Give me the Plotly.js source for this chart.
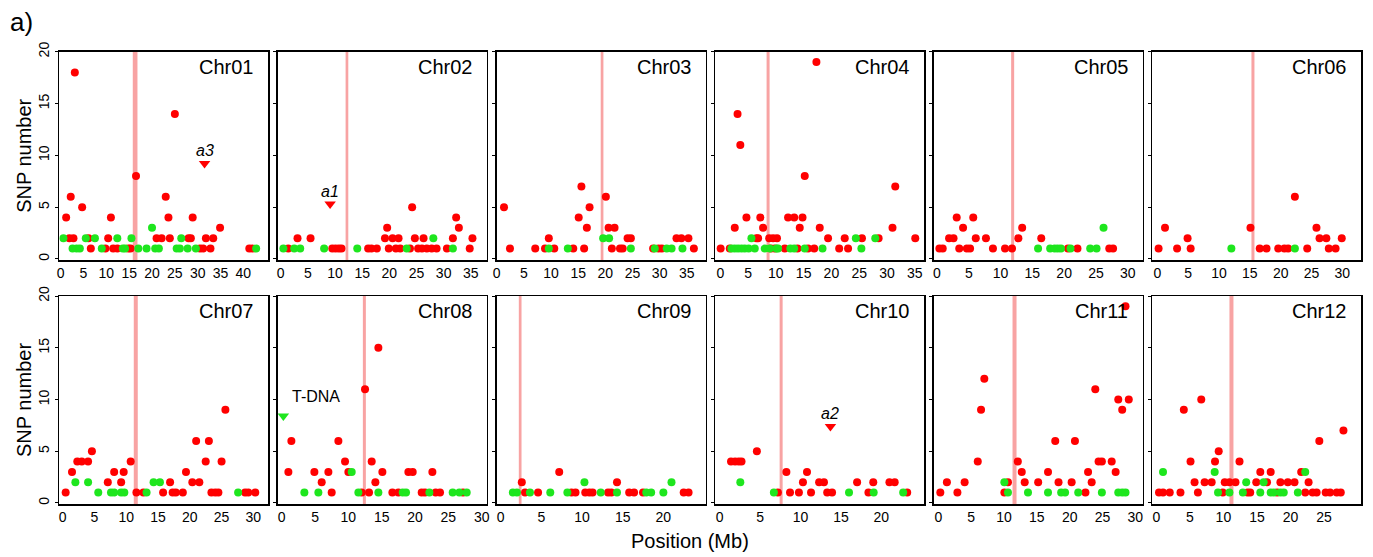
<!DOCTYPE html>
<html><head><meta charset="utf-8">
<script src="https://cdn.plot.ly/plotly-3.0.1.min.js"></script>
<style>html,body{margin:0;padding:0;background:#fff}</style>
</head><body><div id="chart" style="width:1373px;height:557px"></div>
<script>
// ---------------- DATA ----------------
const chromosomes = ['Chr01','Chr02','Chr03','Chr04','Chr05','Chr06','Chr07','Chr08','Chr09','Chr10','Chr11','Chr12'];
const centromeres = [16.3, 12.2, 19.4, 8.6, 11.9, 15.5, 11.5, 12.4, 2.4, 7.6, 11.6, 11.2];
const yTicks = [0, 5, 10, 15, 20];
const xTickMax = [40, 35, 35, 35, 30, 30, 30, 30, 20, 20, 30, 25];

const chr01RedX = [1.2,2.2,3.1,1.9,2.8,4.7,6.1,6.6,9.8,11.0,10.4,11.5,12.4,14.8,15.3,16.5,21.0,22.1,23.0,23.6,23.9,25.0,28.0,28.5,28.9,30.5,31.2,31.8,32.8,33.4,34.9,41.3,42.0];
const chr01RedY = [4,6,18,2,2,5,2,1,1,4,2,1,1,1,1,8,2,2,6,4,2,14,2,2,4,1,1,2,1,2,3,1,1];
const chr01GreenX = [0.6,2.6,3.5,4.2,5.5,7.5,9.0,12.4,13.6,14.1,15.5,17.0,18.8,20.0,20.7,21.5,25.4,26.1,26.4,27.8,29.6,42.8];
const chr01GreenY = [2,1,1,1,2,2,1,2,1,1,2,1,1,3,1,1,1,1,2,1,1,1];

const chr02RedX = [1.4,3.1,5.5,9.5,10.1,10.7,11.2,16.1,16.7,17.7,19.2,19.6,19.9,20.6,21.7,21.2,22.0,24.2,23.8,24.7,25.3,26.0,26.9,27.8,28.7,26.3,30.6,31.7,32.3,32.8,34.8,35.3];
const chr02RedY = [1,2,2,1,1,1,1,1,1,1,2,3,1,2,2,1,1,5,1,2,1,1,1,1,1,2,1,2,4,3,1,2];
const chr02GreenX = [0.5,2.5,3.6,8.0,14.1,23.2,28.1,31.7];
const chr02GreenY = [1,1,1,1,1,1,2,1];

const chr03RedX = [1.35,2.45,7.1,8.9,9.6,10.6,14.1,15.1,15.6,16.1,16.6,17.1,20.1,20.6,21.7,21.2,22.7,23.2,24.1,24.7,28.8,29.8,30.4,33.1,34.0,35.3,36.3];
const chr03RedY = [5,1,1,1,2,1,1,4,7,1,3,5,6,3,3,1,1,1,2,2,1,1,1,2,2,2,1];
const chr03GreenX = [9.6,13.1,19.6,20.7,24.7,29.1,31.3,32.2,34.2];
const chr03GreenY = [1,1,2,2,1,1,1,1,1];

const chr04RedX = [0.06,1.7,2.6,3.1,3.6,4.7,6.5,6.8,7.2,7.7,8.8,9.5,10.2,9.1,9.8,11.6,12.2,13.3,13.9,14.3,14.8,15.2,15.8,16.9,17.3,17.9,19.4,21.4,22.4,23.0,25.5,28.5,31.0,31.5,35.1];
const chr04RedY = [1,1,3,14,11,4,2,2,4,3,2,2,2,1,1,1,4,4,1,3,4,8,1,1,19,3,2,1,2,1,2,2,3,7,2];
const chr04GreenX = [2.0,2.6,3.2,3.8,4.4,5.1,6.2,5.6,8.0,8.9,10.1,10.4,12.6,13.3,15.2,18.4,24.4,25.4,27.9];
const chr04GreenY = [1,1,1,1,1,1,1,2,1,1,1,1,1,1,1,1,2,1,2];

const chr05RedX = [0.37,0.9,1.9,2.6,3.1,3.5,4.1,4.7,5.2,5.7,6.1,7.7,8.8,10.7,11.8,12.8,13.4,16.4,20.6,22.1,27.1,27.7];
const chr05RedY = [1,1,2,2,4,1,3,1,1,4,2,2,1,1,1,2,3,2,1,1,1,1];
const chr05GreenX = [15.9,17.8,18.5,19.0,19.5,21.0,24.1,25.1,26.2];
const chr05GreenY = [1,1,1,1,1,1,1,1,3];

const chr06RedX = [0.2,1.24,3.2,4.9,5.4,15.1,16.6,17.7,19.6,20.6,21.2,22.3,24.3,25.8,26.3,27.4,27.8,28.9,29.9];
const chr06RedY = [1,3,1,2,1,3,1,1,1,1,1,6,1,3,2,2,1,1,2];
const chr06GreenX = [12.0,22.3];
const chr06GreenY = [1,1];

const chr07RedX = [0.47,1.47,2.3,3.0,4.0,4.6,7.1,8.1,9.2,9.6,10.7,11.6,12.7,15.8,16.9,17.3,17.8,18.9,19.4,20.4,21.0,21.5,22.5,23.0,23.4,24.0,24.5,25.0,25.6,28.7,29.2,30.3];
const chr07RedY = [1,3,4,4,4,5,2,3,2,3,4,1,1,1,2,1,1,1,3,2,6,2,4,6,1,1,1,4,9,1,1,1];
const chr07GreenX = [2.0,4.0,5.6,7.6,8.1,9.2,9.7,13.2,14.3,15.3,27.6];
const chr07GreenY = [2,2,1,1,1,1,1,1,2,2,1];

const chr08RedX = [1.0,1.45,4.9,6.0,7.0,7.5,8.5,9.5,10.0,12.5,12.0,13.1,13.5,14.05,14.5,15.1,16.6,17.5,19.0,19.65,21.0,21.5,22.6,23.1,23.75,27.2];
const chr08RedY = [3,6,3,2,3,1,6,4,3,11,1,1,4,2,15,3,1,1,3,3,1,1,3,1,1,1];
const chr08GreenX = [3.4,5.5,10.5,11.5,14.5,18.15,18.65,22.15,25.65,26.65,27.75];
const chr08GreenY = [1,1,3,1,1,1,1,1,1,1,1];

const chr09RedX = [2.6,3.0,4.6,7.2,8.7,9.2,10.4,10.9,11.3,13.2,13.6,14.3,15.8,16.4,17.5,22.5,23.1];
const chr09RedY = [2,1,1,3,1,1,1,1,1,1,1,2,1,1,1,1,1];
const chr09GreenX = [1.5,2.0,3.6,6.1,8.2,10.3,12.3,14.3,17.9,18.5,20.0,21.0];
const chr09GreenY = [1,1,1,1,1,2,1,1,1,1,1,2];

const chr10RedX = [1.4,1.9,2.35,2.7,4.6,7.2,8.25,8.7,9.8,10.3,10.8,11.3,12.3,12.9,13.3,13.9,17.0,18.4,19.0,21.0,21.65,23.2];
const chr10RedY = [4,4,4,4,5,1,3,1,1,2,3,1,2,2,1,1,2,1,2,2,2,1];
const chr10GreenX = [2.55,6.7,16.0,19.05,22.7];
const chr10GreenY = [2,1,1,1,1];

const chr11RedX = [0.3,1.3,2.9,4.0,6.0,6.5,7.0,10.05,10.6,12.1,12.7,13.15,15.2,16.7,17.8,18.3,20.3,20.8,22.4,22.8,23.35,23.9,24.4,24.9,26.4,27.0,27.4,28.0,28.5,29.0];
const chr11RedY = [1,2,1,2,4,9,12,1,2,4,3,2,2,3,6,2,2,6,1,3,2,11,4,4,4,3,10,9,19,10];
const chr11GreenX = [10.05,10.6,13.65,16.7,18.7,19.3,21.3,24.9,27.4,28.0,28.5];
const chr11GreenY = [2,1,1,1,1,1,1,1,1,1,1];

const chr12RedX = [0.4,1.0,2.0,3.6,4.1,5.1,5.7,6.2,6.7,7.2,8.25,8.75,9.3,9.9,10.2,10.9,11.8,12.4,13.6,14.0,14.9,15.5,16.5,17.05,18.0,18.5,19.6,20.6,21.6,22.2,22.7,23.3,23.9,24.3,25.25,25.9,26.9,27.5,27.9];
const chr12RedY = [1,1,1,1,9,4,2,1,10,2,2,4,5,1,2,2,2,4,1,1,2,3,2,3,1,2,2,2,3,1,2,1,1,6,1,1,1,1,7];
const chr12GreenX = [1.0,8.7,9.2,10.9,12.9,13.4,15.5,16.0,17.05,17.5,18.5,19.0,21.1,22.2];
const chr12GreenY = [3,3,1,1,1,2,1,2,1,1,1,1,1,3];

// marked loci (triangles)
const markerChrom = ['Chr01','Chr02','Chr10','Chr08'];
const markerLabel = ['a3','a1','a2','T-DNA'];
const markerX = [31.5, 9.1, 13.7, 0.25];
const markerY = [9.2, 5.3, 7.4, 8.4];
const markerKind = ['red','red','red','green'];

// ---------------- LAYOUT CONFIG ----------------
const redSeries = [[chr01RedX,chr01RedY],[chr02RedX,chr02RedY],[chr03RedX,chr03RedY],[chr04RedX,chr04RedY],[chr05RedX,chr05RedY],[chr06RedX,chr06RedY],[chr07RedX,chr07RedY],[chr08RedX,chr08RedY],[chr09RedX,chr09RedY],[chr10RedX,chr10RedY],[chr11RedX,chr11RedY],[chr12RedX,chr12RedY]];
const greenSeries = [[chr01GreenX,chr01GreenY],[chr02GreenX,chr02GreenY],[chr03GreenX,chr03GreenY],[chr04GreenX,chr04GreenY],[chr05GreenX,chr05GreenY],[chr06GreenX,chr06GreenY],[chr07GreenX,chr07GreenY],[chr08GreenX,chr08GreenY],[chr09GreenX,chr09GreenY],[chr10GreenX,chr10GreenY],[chr11GreenX,chr11GreenY],[chr12GreenX,chr12GreenY]];

const xRanges = [[-0.3,45.46],[-0.51,37.96],[-0.03,38.44],[-0.94,36.69],[-0.52,32.36],[-0.82,33.07],
                 [-0.53,32.35],[-0.57,30.78],[-0.51,25.18],[-0.57,25.29],[-0.71,31.12],[-0.6,30.56]];
const cenWidths = [4.7,2.7,2.7,3,3,3,4,3,2.7,3,4,4];

const W = 1373, H = 557;
const FONT = 'Liberation Sans, Arial, Helvetica, sans-serif';
const RED = '#ff0000', GREEN = '#1ee61e', PINK = '#f8a3a3';
const colLeft = c => 59.3 + 218.6 * c;
const panelW = 209;
const rowTop = [51.7, 296], rowBot = [260, 504];

const traces = [];
const layout = {
  width: W, height: H, margin: {l:0, r:0, t:0, b:0},
  paper_bgcolor: '#fff', plot_bgcolor: '#fff', showlegend: false,
  font: {family: FONT, color: '#000'},
  shapes: [], annotations: []
};

chromosomes.forEach((name, i) => {
  const n = i + 1, row = Math.floor(i / 6), col = i % 6;
  const xa = 'x' + (n === 1 ? '' : n), ya = 'y' + (n === 1 ? '' : n);
  const xk = 'xaxis' + (n === 1 ? '' : n), yk = 'yaxis' + (n === 1 ? '' : n);
  const L = colLeft(col);
  const tv = [];
  for (let t = 0; t <= xTickMax[i]; t += 5) tv.push(t);
  layout[xk] = {
    domain: [L / W, (L + panelW) / W], anchor: ya, range: xRanges[i],
    tickvals: tv, showgrid: false, zeroline: false,
    showline: true, mirror: true, linecolor: '#000', linewidth: 1.5,
    ticks: '', tickfont: {size: 14, family: FONT}, fixedrange: true
  };
  layout[yk] = {
    domain: [1 - rowBot[row] / H, 1 - rowTop[row] / H], anchor: xa, range: [-0.1, 20],
    tickvals: yTicks, showticklabels: col === 0, tickangle: -90,
    showgrid: false, zeroline: false, showline: true, mirror: true,
    linecolor: '#000', linewidth: 1.5, ticks: 'outside', ticklen: 3, tickcolor: '#000',
    tickfont: {size: 14, family: FONT}, fixedrange: true
  };
  layout.shapes.push({type: 'line', layer: 'below', xref: xa, yref: ya + ' domain',
    x0: centromeres[i], x1: centromeres[i], y0: 0, y1: 1,
    line: {color: PINK, width: cenWidths[i]}});
  layout.annotations.push({text: name, showarrow: false, xref: xa + ' domain', yref: ya + ' domain',
    x: 1, y: 1, xanchor: 'right', yanchor: 'top', xshift: -13, yshift: -2,
    font: {size: 20, family: FONT, color: '#000'}});
  traces.push({type: 'scatter', mode: 'markers', x: redSeries[i][0], y: redSeries[i][1],
    xaxis: xa, yaxis: ya, marker: {color: RED, size: 8, line: {width: 0}}, hoverinfo: 'x+y'});
  traces.push({type: 'scatter', mode: 'markers', x: greenSeries[i][0], y: greenSeries[i][1],
    xaxis: xa, yaxis: ya, marker: {color: GREEN, size: 8, line: {width: 0}}, hoverinfo: 'x+y'});
});

markerChrom.forEach((c, k) => {
  const n = chromosomes.indexOf(c) + 1;
  const xa = 'x' + (n === 1 ? '' : n), ya = 'y' + (n === 1 ? '' : n);
  traces.push({type: 'scatter', mode: 'markers', x: [markerX[k]], y: [markerY[k]], xaxis: xa, yaxis: ya,
    marker: {symbol: 'triangle-down', size: 10, color: markerKind[k] === 'red' ? RED : GREEN, line: {width: 0}}});
  const isT = markerLabel[k] === 'T-DNA';
  layout.annotations.push({text: isT ? markerLabel[k] : '<i>' + markerLabel[k] + '</i>', showarrow: false,
    xref: xa, yref: ya, x: markerX[k], y: markerY[k],
    xanchor: isT ? 'left' : 'center', yanchor: 'middle',
    xshift: isT ? 7 : 0, yshift: isT ? 20 : 13,
    font: {size: 16, family: FONT, color: '#000'}});
});

layout.annotations.push({text: 'SNP number', textangle: -90, showarrow: false, xref: 'paper', yref: 'paper',
  x: 24 / W, y: 1 - ((rowTop[0] + rowBot[0]) / 2) / H, xanchor: 'center', yanchor: 'middle', font: {size: 20, family: FONT}});
layout.annotations.push({text: 'SNP number', textangle: -90, showarrow: false, xref: 'paper', yref: 'paper',
  x: 24 / W, y: 1 - ((rowTop[1] + rowBot[1]) / 2) / H, xanchor: 'center', yanchor: 'middle', font: {size: 20, family: FONT}});
layout.annotations.push({text: 'Position (Mb)', showarrow: false, xref: 'paper', yref: 'paper',
  x: 690 / W, y: 1 - 541 / H, xanchor: 'center', yanchor: 'middle', font: {size: 20, family: FONT}});
layout.annotations.push({text: 'a)', showarrow: false, xref: 'paper', yref: 'paper',
  x: 8 / W, y: 1 - 22 / H, xanchor: 'left', yanchor: 'middle', font: {size: 26, family: FONT}});

Plotly.newPlot('chart', traces, layout, {displayModeBar: false, staticPlot: true});
</script></body></html>
